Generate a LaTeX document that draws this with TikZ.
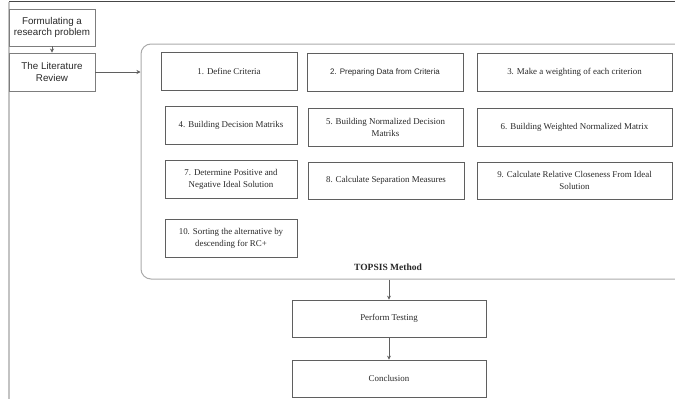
\documentclass[tikz,border=0pt]{standalone}
\usepackage{fontspec}
\setmainfont{Liberation Serif}
\setsansfont{Liberation Sans}
\usetikzlibrary{positioning,arrows.meta}
\definecolor{FrameGray}{RGB}{70,70,70}
\definecolor{EdgeGray}{RGB}{195,195,195}
\definecolor{BoxGray}{RGB}{95,95,95}
\definecolor{StageGray}{RGB}{125,125,125}
\definecolor{PanelGray}{RGB}{170,170,170}
\definecolor{InkGray}{RGB}{40,40,40}
\tikzset{
  flow/.style={-{Stealth[length=4pt,width=4pt]},line width=0.7pt,draw=BoxGray},
  stagebox/.style={draw=StageGray,line width=0.9pt,minimum width=86pt,
    minimum height=37pt,align=center,text=InkGray,inner sep=1pt,
    font=\sffamily\fontsize{9.8}{11.5}\selectfont},
  stepbox/.style={draw=BoxGray,line width=0.7pt,minimum height=38pt,
    align=center,text=InkGray,inner sep=1pt,
    font=\fontsize{8.9}{12}\selectfont},
  panel/.style={draw=PanelGray,line width=1pt,rounded corners=10pt,
    minimum width=549pt,minimum height=235pt,inner sep=0pt}
}

\begin{document}
\begin{tikzpicture}[x=1pt,y=-1pt]
  \useasboundingbox (0,0) rectangle (675,399);
  \draw[draw=FrameGray,line width=1.2pt] (675,1.5) -- (9,1.5);
  \draw[draw=EdgeGray,line width=1.2pt] (9,1.5) -- (9,399);
  \node[stagebox] (problem) at (52,27.5) {Formulating a\\research problem};
  \node[stagebox,minimum height=38pt] (review) at (52,72) {The Literature\\Review};
  \node[panel] (topsis) at (415.5,161.5) {};
  \node[font=\bfseries\fontsize{9.5}{11}\selectfont,text=InkGray] (topsislabel) at (388,267) {TOPSIS Method};
  \node[stepbox,minimum width=136pt] (criteria) at (229,71) {1. Define Criteria};
  \node[stepbox,minimum width=156pt,font=\sffamily\fontsize{8}{10}\selectfont] (prepare) at (385,72) {2. Preparing Data from Criteria};
  \node[stepbox,minimum width=195pt] (weight) at (574.5,72) {3. Make a weighting of each criterion};
  \node[stepbox,minimum width=132pt] (decision) at (231,125) {4. Building Decision Matriks};
  \node[stepbox,minimum width=155pt] (normal) at (385.5,127) {5. Building Normalized Decision\\Matriks};
  \node[stepbox,minimum width=195pt] (weighted) at (574.5,127) {6. Building Weighted Normalized Matrix};
  \node[stepbox,minimum width=132pt] (ideal) at (231,179) {7. Determine Positive and\\Negative Ideal Solution};
  \node[stepbox,minimum width=156pt,minimum height=37pt] (separation) at (386,180.5) {8. Calculate Separation Measures};
  \node[stepbox,minimum width=195pt,minimum height=37pt] (closeness) at (574.5,180.5) {9. Calculate Relative Closeness From Ideal\\Solution};
  \node[stepbox,minimum width=132pt] (sorting) at (231,238) {10. Sorting the alternative by\\descending for RC+};
  \node[stepbox,minimum width=194pt,minimum height=37pt] (testing) at (389,318.5) {Perform Testing};
  \node[stepbox,minimum width=194pt,minimum height=37pt] (conclusion) at (389,378.5) {Conclusion};
  \draw[flow] (problem) -- (review);
  \draw[flow] (review.east) -- (review.east -| topsis.west);
  \draw[flow] (topsis.south -| testing.north) -- (testing);
  \draw[flow] (testing) -- (conclusion);
\end{tikzpicture}
\end{document}
